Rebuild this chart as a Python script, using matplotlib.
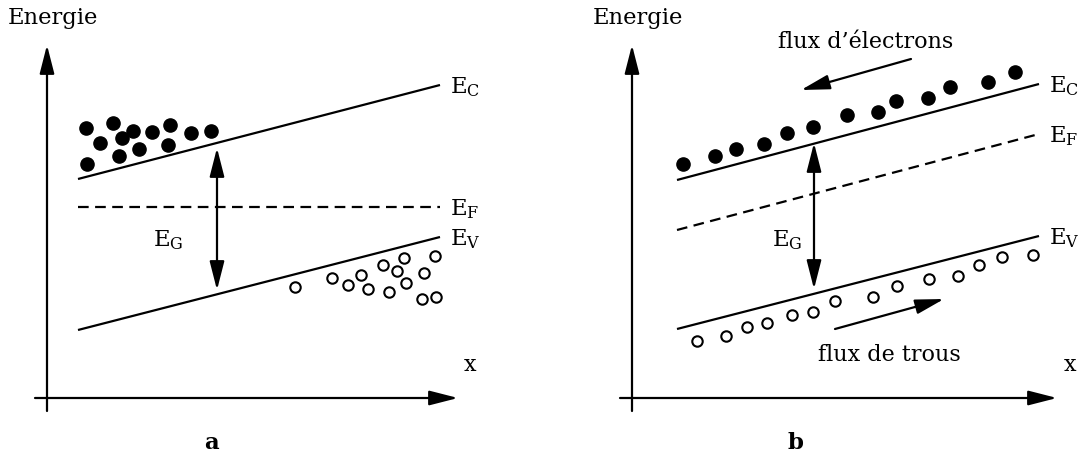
import matplotlib
matplotlib.use("Agg")
import matplotlib.pyplot as plt

# ---------------- data (pixel coordinates of the reference diagram) ----------------
# Panel a
a_ec = ([78, 440], [179, 85])
a_ef = ([78, 440], [207, 207])
a_ev = ([78, 440], [330, 237])
a_elec_x = [86, 113, 100, 122, 133, 119, 139, 152, 170, 168, 191, 211, 87]
a_elec_y = [128, 123, 143, 138, 131, 156, 149, 132, 125, 145, 133, 131, 164]
a_hole_x = [295, 332, 348, 361, 368, 383, 397, 404, 389, 406, 424, 435, 422, 436]
a_hole_y = [287, 278, 285, 275, 289, 265, 271, 258, 292, 283, 273, 256, 299, 297]

# Panel b
b_ec = ([677, 1039], [180, 84])
b_ef = ([677, 1039], [230, 134])
b_ev = ([677, 1039], [329, 236])
b_elec_x = [683, 715, 736, 764, 787, 813, 847, 878, 896, 928, 950, 988, 1015]
b_elec_y = [164, 156, 149, 144, 133, 127, 115, 112, 101, 98, 87, 82, 72]
b_hole_x = [697, 726, 747, 767, 792, 813, 835, 873, 897, 929, 958, 979, 1002, 1033]
b_hole_y = [341, 336, 327, 323, 315, 312, 301, 297, 286, 279, 276, 265, 257, 255]

band_labels = ["C", "F", "V"]
panel_labels = ["a", "b"]

# ---------------- drawing ----------------
plt.rcParams['mathtext.fontset'] = 'dejavuserif'
FONT = 'DejaVu Serif'

fig = plt.figure(figsize=(10.84, 4.62), dpi=100)
ax = fig.add_axes([0, 0, 1, 1])
ax.set_xlim(0, 1084)
ax.set_ylim(462, 0)
ax.axis('off')

LW = 1.6
HEAD = '-|>,head_length=1.25,head_width=0.32'
axis_arrow = dict(arrowstyle=HEAD, color='black',
                  lw=LW, shrinkA=0, shrinkB=0, mutation_scale=14)
dbl_arrow = dict(arrowstyle='<|-|>,head_length=1.25,head_width=0.32', color='black',
                 lw=LW, shrinkA=0, shrinkB=0, mutation_scale=14)


def draw_panel(x0, xend, xlab, ec, ef, ev, ex, ey, hx, hy, gx, gtop, gbot, glabel, plabel):
    # axes
    ax.annotate('', xy=(x0, 45), xytext=(x0, 411), arrowprops=axis_arrow)
    ax.annotate('', xy=(xend, 398), xytext=(x0 - 12, 398), arrowprops=axis_arrow)
    ax.text(x0 - 39, 18, 'Energie', family=FONT, fontsize=16.3, ha='left', va='center')
    ax.text(xlab, 365, 'x', family=FONT, fontsize=16, ha='center', va='center')
    # bands
    ax.plot(*ec, color='black', lw=LW, solid_capstyle='butt')
    ax.plot(*ev, color='black', lw=LW, solid_capstyle='butt')
    ax.plot(*ef, color='black', lw=LW, ls=(0, (4.8, 2.9)))
    for (xs, ys), lab in zip([ec, ef, ev], band_labels):
        ax.text(xs[1] + 10, ys[1] + 2, r'$\mathrm{E_{%s}}$' % lab, fontsize=16.5,
                ha='left', va='center')
    # carriers
    ax.plot(ex, ey, 'o', color='black', ms=9.5, ls='none')
    ax.plot(hx, hy, 'o', mfc='white', mec='black', mew=1.5, ms=7.5, ls='none')
    # gap
    ax.annotate('', xy=(gx, gtop), xytext=(gx, gbot), arrowprops=dbl_arrow)
    ax.text(glabel[0], glabel[1], r'$\mathrm{E_G}$', fontsize=16.5, ha='center', va='center')
    ax.text(x0 + 164, 443, plabel, family=FONT, fontsize=16.5, fontweight='bold',
            ha='center', va='center')


draw_panel(47, 458, 470, a_ec, a_ef, a_ev, a_elec_x, a_elec_y, a_hole_x, a_hole_y,
           217, 148, 290, (168, 240), panel_labels[0])
draw_panel(632, 1057, 1070, b_ec, b_ef, b_ev, b_elec_x, b_elec_y, b_hole_x, b_hole_y,
           814, 143, 289, (787, 240), panel_labels[1])

# flux arrows and labels (panel b)
flux_arrow = dict(arrowstyle=HEAD, color='black',
                  lw=LW, shrinkA=0, shrinkB=0, mutation_scale=14)
ax.annotate('', xy=(801, 90), xytext=(911, 59), arrowprops=flux_arrow)
ax.annotate('', xy=(944, 299), xytext=(835, 329), arrowprops=flux_arrow)
ax.text(866, 42, 'flux d\u2019\u00e9lectrons', family=FONT, fontsize=16,
        ha='center', va='center')
ax.text(889, 355, 'flux de trous', family=FONT, fontsize=16, ha='center', va='center')

fig.savefig('out.png', dpi=100)
